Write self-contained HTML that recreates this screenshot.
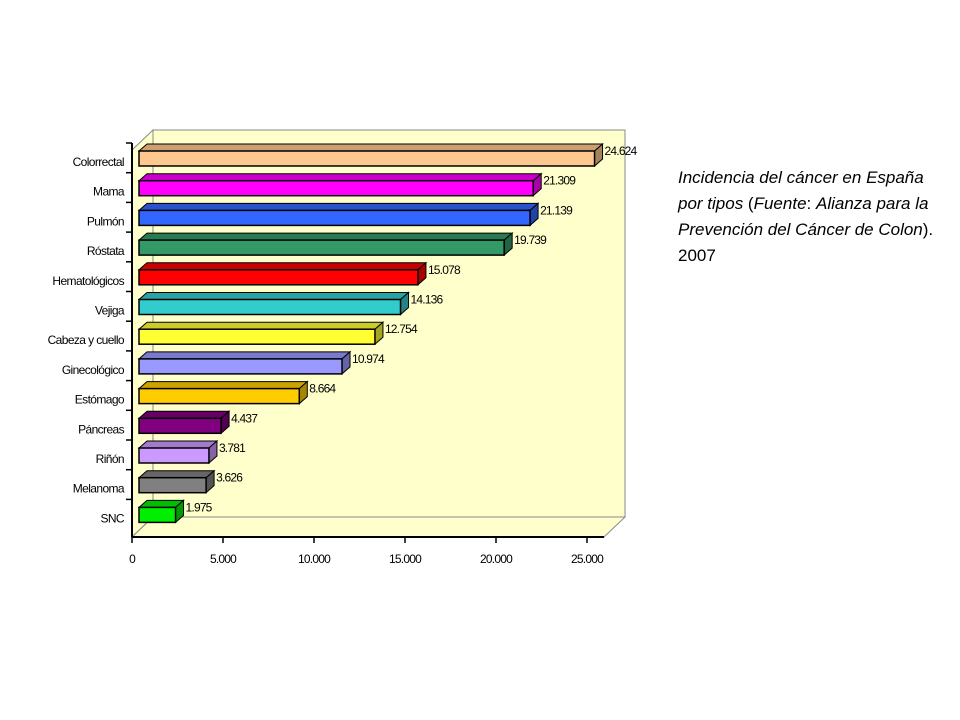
<!DOCTYPE html>
<html><head><meta charset="utf-8"><style>
body{margin:0;background:#fff;width:960px;height:720px;overflow:hidden}
svg{position:absolute;left:0;top:0}
.cap{position:absolute;left:678px;top:165px;width:270px;font:17px/26px "Liberation Sans",sans-serif;color:#000}
</style></head><body>
<svg width="960" height="720" id="chart">
<polygon points="132,150 153,130 153,517 132,537" fill="#ffffcc" stroke="#888"/>
<rect x="153" y="130" width="472" height="387" fill="#ffffcc" stroke="#888"/>
<polygon points="132,537 153,517 625,517 604,537" fill="#ffffcc" stroke="#888"/>
<g id="bars"></g>
<line x1="132" y1="143" x2="132" y2="537" stroke="#000" stroke-width="2"/>
<line x1="132" y1="537" x2="604" y2="537" stroke="#000" stroke-width="2"/>
</svg>
<div class="cap"><i>Incidencia del cáncer en España por tipos</i> (<i>Fuente</i>: <i>Alianza para la Prevención del Cáncer de Colon</i>). 2007</div>
<script>
const categories=["Colorrectal","Mama","Pulmón","Róstata","Hematológicos","Vejiga","Cabeza y cuello","Ginecológico","Estómago","Páncreas","Riñón","Melanoma","SNC"];
const values=[24624,21309,21139,19739,15078,14136,12754,10974,8664,4437,3781,3626,1975];
const valueLabels=["24.624","21.309","21.139","19.739","15.078","14.136","12.754","10.974","8.664","4.437","3.781","3.626","1.975"];
const colors=["#fcc890","#ff00ff","#3366ff","#339966","#ff0000","#33cccc","#ffff33","#9999ff","#ffcc00","#800080","#cc99ff","#808080","#00ee00"];
const tickValues=[0,5000,10000,15000,20000,25000];
const tickLabels=["0","5.000","10.000","15.000","20.000","25.000"];
const NS="http://www.w3.org/2000/svg";
const svg=document.getElementById('chart'),g=document.getElementById('bars');
const barX=v=>139+v*0.0185;
const tickX=v=>132+v*(455/25000);
const rowY=i=>151+i*29.7;
function mk(t,a,p){const e=document.createElementNS(NS,t);for(const k in a)e.setAttribute(k,a[k]);(p||svg).appendChild(e);return e;}
function shade(c,f){const n=parseInt(c.slice(1),16);const r=Math.round(((n>>16)&255)*f),gg=Math.round(((n>>8)&255)*f),b=Math.round((n&255)*f);return `rgb(${r},${gg},${b})`;}
const H=15,dx=8,dy=7;
categories.forEach((c,i)=>{
 const y=rowY(i),x0=139,x1=barX(values[i]);
 const top=mk('polygon',{points:`${x0},${y} ${x0+dx},${y-dy} ${x1+dx},${y-dy} ${x1},${y}`,fill:shade(colors[i],0.8),stroke:'#000','stroke-width':1},g);
 
 
 const side=mk('polygon',{points:`${x1},${y} ${x1+dx},${y-dy} ${x1+dx},${y+H-dy} ${x1},${y+H}`,fill:shade(colors[i],0.65),stroke:'#000','stroke-width':1},g);
 
 
 const r=mk('rect',{x:x0,y:y,width:x1-x0,height:H,fill:colors[i],stroke:'#000','stroke-width':1.5},g);
 
 
 const vl=mk('text',{x:x1+10,y:y+4,'font-family':'Liberation Sans, sans-serif','font-size':12,'letter-spacing':'-0.8'});
 vl.textContent=valueLabels[i];
 
 
 const cl=mk('text',{x:124,y:y+15,'text-anchor':'end','font-family':'Liberation Sans, sans-serif','font-size':12,'letter-spacing':'-0.6'});
 cl.textContent=c;
 
 
 const tk=mk('line',{x1:126,x2:132,y1:y-8,y2:y-8,stroke:'#000','stroke-width':1.5});
 
 
});
tickValues.forEach((v,i)=>{
 const x=tickX(v);
 const t=mk('line',{x1:x,x2:x,y1:537,y2:543,stroke:'#000','stroke-width':1.5});
 
 
 const l=mk('text',{x:x,y:563,'text-anchor':'middle','font-family':'Liberation Sans, sans-serif','font-size':12,'letter-spacing':'-0.8'});
 l.textContent=tickLabels[i];
 
 
});
</script>
</body></html>
